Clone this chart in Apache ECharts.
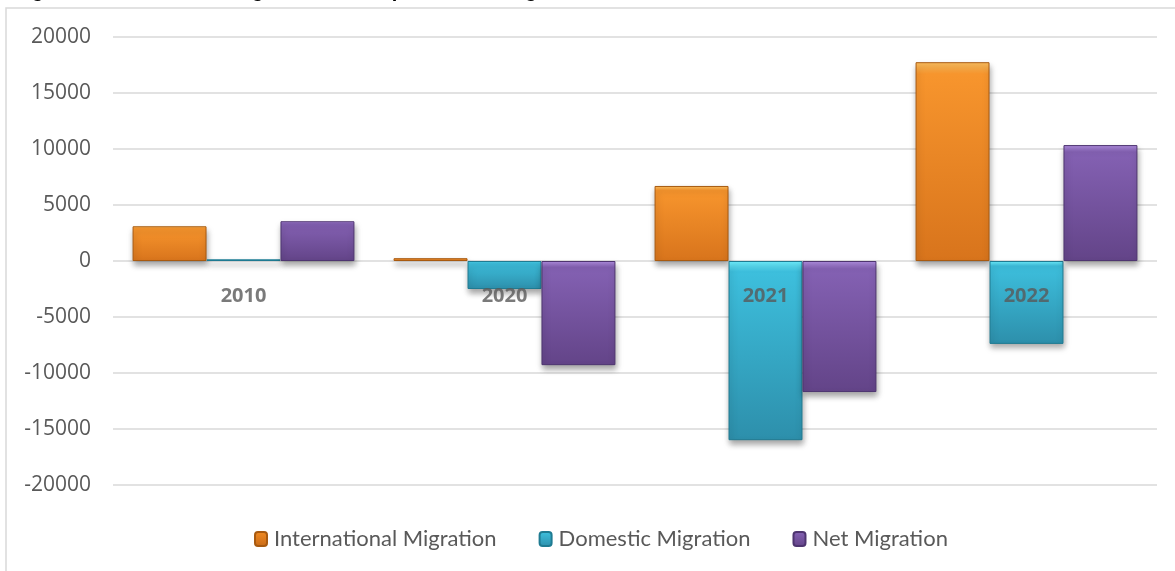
<!DOCTYPE html>
<html><head><meta charset="utf-8">
<script src="https://cdn.jsdelivr.net/npm/echarts@6/dist/echarts.min.js"></script>
<style>html,body{margin:0;padding:0;background:#fff}#c{width:1175px;height:571px}</style>
</head><body><div id="c"></div>
<script>
const categories = ['2010', '2020', '2021', '2022'];
const international = [3100, 250, 6700, 17750];
const domestic = [150, -2500, -16000, -7400];
const net = [3550, -9300, -11700, 10350];
const yTicks = [-20000, 20000, 5000];

function grad(top, mid, bot) {
  return new echarts.graphic.LinearGradient(0, 0, 0, 1, [
    {offset: 0, color: top}, {offset: 0.06, color: mid}, {offset: 1, color: bot}
  ]);
}
function mkSeries(name, data, c1, c2, c3, border) {
  return {
    name, type: 'bar', data, barGap: '0%', barCategoryGap: '15%',
    itemStyle: {
      color: grad(c1, c2, c3), borderColor: border, borderWidth: 1,
      shadowColor: 'rgba(0,0,0,0.35)', shadowBlur: 6, shadowOffsetY: 4, shadowOffsetX: 1
    }
  };
}
const chart = echarts.init(document.getElementById('c'));
chart.setOption({
  animation: false,
  title: {
    text: 'Figure 5: International Migration and Population Change, 2010, 2020-2022',
    left: 14, top: -19, padding: 0,
    textStyle: {fontFamily: 'Liberation Sans', fontWeight: 'bold', fontSize: 20, color: '#000'}
  },
  graphic: [{type: 'rect', shape: {x: 6, y: 8, width: 1180, height: 580}, style: {fill: 'none', stroke: '#d9d9d9', lineWidth: 1.5}, silent: true, z: -1}],
  grid: {left: 113, right: 18, top: 37, bottom: 86},
  legend: {
    top: 528, left: 254, itemWidth: 12, itemHeight: 14, itemGap: 42, padding: 0,
    textStyle: {fontFamily: 'Lato', fontSize: 22, color: '#595959', padding: [0, 0, 0, 2]},
    data: [
      {name: 'International Migration', itemStyle: {color: grad('#fcc060', '#f08a22', '#c86a18'), borderColor: '#a85a10'}},
      {name: 'Domestic Migration', itemStyle: {color: grad('#6ff0ff', '#3dbfdd', '#2d8fab'), borderColor: '#1f7b92'}},
      {name: 'Net Migration', itemStyle: {color: grad('#b08ee0', '#8461b3', '#634488'), borderColor: '#4e3570'}}
    ]
  },
  xAxis: {
    type: 'category', data: categories,
    axisLine: {show: false},
    axisTick: {show: false},
    axisLabel: {show: false}
  },
  yAxis: {
    type: 'value', min: yTicks[0], max: yTicks[1], interval: yTicks[2],
    axisLine: {show: false}, axisTick: {show: false},
    splitLine: {lineStyle: {color: '#d9d9d9', width: 1.5}},
    axisLabel: {margin: 22, fontFamily: 'Open Sans', fontSize: 21, color: '#595959', formatter: v => String(v)}
  },
  series: [
    mkSeries('International Migration', international, '#fcc060', '#f7952d', '#d8741c', '#a85a10'),
    mkSeries('Domestic Migration', domestic, '#6ff0ff', '#3dbfdd', '#2d8fab', '#1f7b92'),
    mkSeries('Net Migration', net, '#b08ee0', '#8461b3', '#634488', '#4e3570'),
    {
      name: 'cat-labels', type: 'scatter', symbolSize: 0, z: 20, silent: true,
      data: categories.map(() => 0),
      label: {
        show: true, position: 'inside', offset: [0, 35],
        formatter: p => categories[p.dataIndex],
        fontFamily: 'Open Sans', fontWeight: 'bold', fontSize: 20, color: '#595959'
      }
    }
  ]
});
</script></body></html>
